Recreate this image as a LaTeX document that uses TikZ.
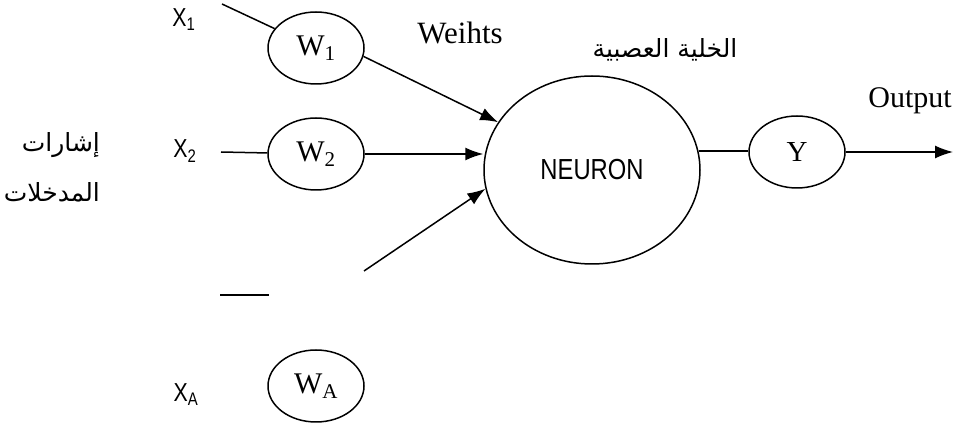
\documentclass[tikz,border=0pt]{standalone}
\usepackage{fontspec}
\usepackage{tikz}
\usetikzlibrary{shapes.geometric, arrows.meta}
\setmainfont{Liberation Serif}
\newfontfamily\narrowsans[FakeStretch=0.82]{Liberation Sans}
\newfontfamily\arabicfont[Script=Arabic]{DejaVu Sans}
\TeXXeTstate=1

\begin{document}
\begin{tikzpicture}[x=1pt, y=-1pt, line width=1.5pt, >={Latex[length=18pt, width=13pt]},
    weight/.style={draw, ellipse, minimum width=96pt, minimum height=72pt, inner sep=0pt, font=\fontsize{30}{30}\selectfont},
    xlabel/.style={font=\narrowsans\fontsize{26}{26}\selectfont},
    arlabel/.style={font=\arabicfont\fontsize{25}{25}\selectfont}]
    \useasboundingbox (0,0) rectangle (954,427);
    \node [xlabel] (x1) at (184,20) {X\textsubscript{1}};
    \node [xlabel] (x2) at (185,151) {X\textsubscript{2}};
    \node [xlabel] (xa) at (186,395) {X\textsubscript{A}};
    \node [weight] (w1) at (316,48) {W\textsubscript{1}};
    \node [weight] (w2) at (316,154) {W\textsubscript{2}};
    \node [weight] (wa) at (316,386) {W\textsubscript{A}};
    \node [draw, ellipse, minimum width=216pt, minimum height=188pt, font=\narrowsans\fontsize{29}{29}\selectfont] (neuron) at (592,170) {NEURON};
    \node [weight, font=\fontsize{29}{29}\selectfont] (y) at (797,152) {Y};
    \node [font=\fontsize{31}{31}\selectfont] (weights) at (460,33) {Weihts};
    \node [font=\fontsize{30}{30}\selectfont] (output) at (910,101) {Output};
    \node [arlabel] (cell) at (665,50) {\beginR الخلية العصبية\endR};
    \node [arlabel, anchor=east] (in1) at (104,145) {\beginR إشارات\endR};
    \node [arlabel, anchor=east] (in2) at (104,192) {\beginR المدخلات\endR};
    \coordinate (x1s) at (222,4);
    \coordinate (x2s) at (221,152);
    \coordinate (xas) at (220,295);
    \coordinate (xae) at (269,295);
    \coordinate (lows) at (364,271);
    \coordinate (out) at (953,152);
    \draw (x1s) -- (w1);
    \draw (x2s) -- (w2);
    \draw (xas) -- (xae);
    \draw [->] (w1.-10) -- (neuron.153);
    \draw [->] (w2.east) -- (w2.east -| neuron.west);
    \draw [->] (lows) -- (neuron.190);
    \draw (neuron.10) -- (neuron.10 -| y.west);
    \draw [->] (y.east) -- (out);
\end{tikzpicture}
\end{document}
